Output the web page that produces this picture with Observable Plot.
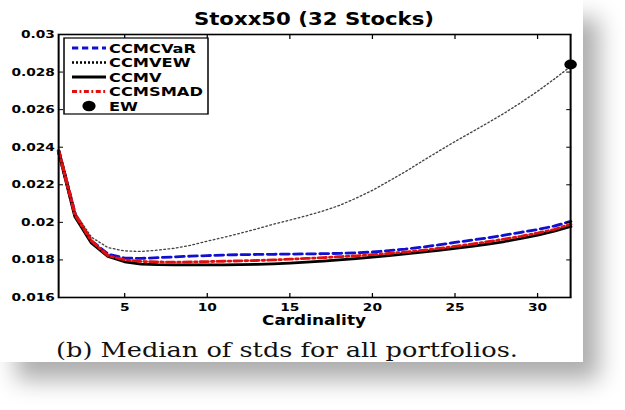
<!DOCTYPE html>
<html><head><meta charset="utf-8">
<script src="https://cdn.jsdelivr.net/npm/d3@7"></script>
<script src="https://cdn.jsdelivr.net/npm/@observablehq/plot@0.6"></script>
<style>
html,body{margin:0;padding:0;background:#fff;}
#panel{position:absolute;left:0;top:0;width:583px;height:362px;background:#fff;box-shadow:16px 18px 22px rgba(0,0,0,0.32);overflow:hidden;}
#inner{position:absolute;left:0;top:0;width:466.4px;height:362px;transform:scaleX(1.25);transform-origin:0 0;}
#inner svg{overflow:visible;}
</style></head><body>
<div id="panel"><div id="inner"></div></div>
<script>
const titleText = "Stoxx50 (32 Stocks)";
const xLabel = "Cardinality";
const captionText = "(b) Median of stds for all portfolios.";
const cardinality = [1,2,3,4,5,6,7,8,9,10,11,12,13,14,15,16,17,18,19,20,21,22,23,24,25,26,27,28,29,30,31,32];
const ccmcvar = [0.0238,0.0204,0.0190,0.01830,0.01810,0.01808,0.01812,0.01816,0.01820,0.01823,0.01826,0.01828,0.01829,0.01830,0.01831,0.01832,0.01833,0.01835,0.01838,0.01842,0.01850,0.01858,0.01868,0.01880,0.01893,0.01905,0.01918,0.01932,0.01947,0.01962,0.01980,0.02005];
const ccmvew = [0.0238,0.0205,0.0192,0.01865,0.01848,0.01845,0.01852,0.01862,0.01878,0.01900,0.01920,0.01942,0.01965,0.01990,0.02012,0.02035,0.02060,0.02090,0.02128,0.02170,0.02220,0.02270,0.02325,0.02378,0.02430,0.02480,0.02530,0.02582,0.02638,0.02698,0.02762,0.02830];
const ccmv = [0.0238,0.0203,0.0189,0.01818,0.01790,0.01778,0.01775,0.01774,0.01774,0.01774,0.01774,0.01775,0.01776,0.01779,0.01783,0.01788,0.01794,0.01800,0.01807,0.01815,0.01823,0.01832,0.01841,0.01851,0.01861,0.01872,0.01884,0.01898,0.01914,0.01932,0.01953,0.01978];
const ccmsmad = [0.0238,0.0204,0.0190,0.01822,0.01800,0.01792,0.01789,0.01788,0.01789,0.01791,0.01793,0.01795,0.01797,0.01800,0.01804,0.01808,0.01812,0.01817,0.01822,0.01828,0.01835,0.01842,0.01851,0.01861,0.01872,0.01884,0.01897,0.01911,0.01926,0.01943,0.01962,0.01990];
const ewCardinality = [32];
const ewValue = [0.0284];
const xTicks = [5,10,15,20,25,30];
const yTicks = [0.016,0.018,0.020,0.022,0.024,0.026,0.028,0.030];
const yTickLabels = ["0.016","0.018","0.02","0.022","0.024","0.026","0.028","0.03"];
const seriesNames = ["CCMCVaR","CCMVEW","CCMV","CCMSMAD","EW"];

const styles = [
  {stroke:"#1010d0", strokeWidth:2.8, dash:"6.5,4", legendDash:"5,3"},
  {stroke:"#444", strokeWidth:1.3, dash:"1.2,2.2", legendDash:"1.6,1.6", legendStroke:"#000", legendWidth:2.4},
  {stroke:"#000", strokeWidth:2.8, dash:null},
  {stroke:"#e01010", strokeWidth:2.8, dash:"6,3,1.5,3", legendDash:"4,2,1.5,2"},
  {fill:"#000"}
];
const series = [ccmcvar, ccmvew, ccmv, ccmsmad];
const rows = vals => cardinality.map((k,i)=>({k, v: vals[i]}));
const ewRows = ewCardinality.map((k,i)=>({k, v: ewValue[i]}));

const fmtY = d => yTickLabels[yTicks.findIndex(t => Math.abs(t-d) < 1e-9)];

const chart = Plot.plot({
  width: 466.4, height: 362,
  marginTop: 34, marginBottom: 65, marginLeft: 46.4, marginRight: 10.4,
  x: {domain: [1, 32]},
  y: {domain: [0.016, 0.03]},
  style: {fontFamily: "DejaVu Sans", fontWeight: "bold", fontSize: "11px", color: "#000", background: "transparent", overflow: "visible"},
  marks: [
    ...series.map((s, i) => Plot.line(rows(s), {x: "k", y: "v", stroke: styles[i].stroke, strokeWidth: styles[i].strokeWidth, strokeDasharray: styles[i].dash || undefined})),
    Plot.dot(ewRows, {x: "k", y: "v", r: 5, fill: "#000"}),
    Plot.frame({stroke: "#000", strokeWidth: 1.6}),
    Plot.axisX(xTicks, {anchor: "bottom", tickSize: -4, tickPadding: 10, label: null, tickFormat: d => String(d)}),
    Plot.axisX(xTicks, {anchor: "top", tickSize: -4, label: null, tickFormat: () => ""}),
    Plot.axisY(yTicks, {anchor: "left", tickSize: -4, tickPadding: 7, label: null, tickFormat: fmtY}),
    Plot.axisY(yTicks, {anchor: "right", tickSize: -4, label: null, tickFormat: () => ""})
  ]
});
document.getElementById("inner").appendChild(chart);

const svg = d3.select(chart);
const plotCx = (46.4 + 466.4 - 10.4) / 2;
svg.append("text").attr("x", plotCx).attr("y", 25).attr("text-anchor", "middle")
  .style("font", "bold 17px 'DejaVu Sans'").attr("fill", "#000").text(titleText);
svg.append("text").attr("x", plotCx).attr("y", 325.5).attr("text-anchor", "middle")
  .style("font", "bold 13.5px 'DejaVu Sans'").attr("fill", "#000").text(xLabel);
svg.append("text").attr("x", 229.6).attr("y", 357).attr("text-anchor", "middle")
  .style("font", "normal 20.5px 'DejaVu Serif'").attr("fill", "#111").text(captionText);

// legend
const lg = svg.append("g");
lg.append("rect").attr("x", 51.2).attr("y", 38).attr("width", 115.2).attr("height", 76)
  .attr("fill", "#fff").attr("stroke", "#000").attr("stroke-width", 1.2);
const ly = [48, 62.5, 77, 91.5, 106];
seriesNames.forEach((name, i) => {
  const st = styles[i];
  if (st.fill) {
    lg.append("circle").attr("cx", 71.2).attr("cy", ly[i]).attr("r", 5.3).attr("fill", st.fill);
  } else {
    const ln = lg.append("line").attr("x1", 57.6).attr("x2", 84.8).attr("y1", ly[i]).attr("y2", ly[i])
      .attr("stroke", st.legendStroke || st.stroke).attr("stroke-width", st.legendWidth || st.strokeWidth);
    if (st.legendDash) ln.attr("stroke-dasharray", st.legendDash);
  }
  lg.append("text").attr("x", 87.2).attr("y", ly[i]).attr("dy", "0.36em").attr("text-anchor", "start")
    .style("font", "bold 13px 'DejaVu Sans'").attr("fill", "#000").text(name);
});
</script>
</body></html>
